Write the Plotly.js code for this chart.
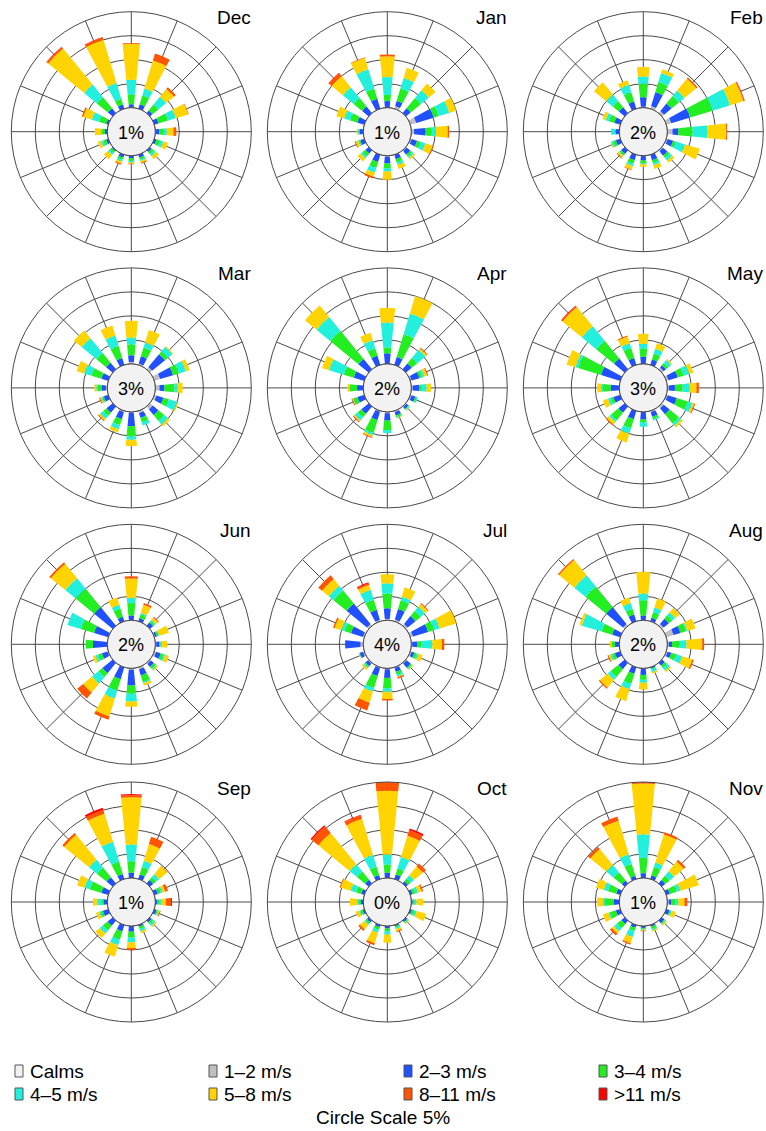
<!DOCTYPE html>
<html><head><meta charset="utf-8">
<script src="https://cdn.plot.ly/plotly-3.0.1.min.js"></script>
<style>html,body{margin:0;padding:0;background:#fff}#chart{width:766px;height:1131px}</style>
</head><body><div id="chart"></div>
<script>
// Directions (degrees, N clockwise): N NNE NE ENE E ESE SE SSE S SSW SW WSW W WNW NW NNW
const DIRECTIONS = [0,22.5,45,67.5,90,112.5,135,157.5,180,202.5,225,247.5,270,292.5,315,337.5];
const BINS = ['1–2 m/s','2–3 m/s','3–4 m/s','4–5 m/s','5–8 m/s','8–11 m/s','>11 m/s'];
const BIN_COLORS = ['#c0c0c0','#2050ff','#22ee22','#22f0dd','#ffd400','#ff5500','#ff0000'];
const CALM_LABEL = 'Calms';
const CALM_COLOR = '#f2f2f2';
const MONTHS = ['Dec','Jan','Feb','Mar','Apr','May','Jun','Jul','Aug','Sep','Oct','Nov'];
const CALMS = [1,1,2,3,2,3,2,4,2,1,0,1];
const SCALE_TEXT = 'Circle Scale 5%';

// Percent frequency per direction (rows N..NNW), columns = BINS
const DEC = [
 [0.1,0.6,2.1,3.0,7.5,0.15,0.05],[0,1.0,1.9,1.5,6.1,1.5,0],[0,0.7,1.6,2.1,2.1,0.5,0],[0,0.9,2.1,1.7,2.7,0.1,0],
 [0,0.8,1.0,0.6,1.4,0.6,0],[0,0.5,0.8,0.7,1.0,0,0],[0,0.5,0.6,0.5,0.8,0,0],[0,0.6,0.5,0.3,0.4,0.2,0],
 [0,0.5,0.6,0.3,0.3,0.1,0],[0,0.6,0.5,0.4,0.5,0.2,0],[0,0.3,0.5,0.5,1.1,0,0],[0,0.5,0.6,0.5,0.7,0,0],
 [0,0.5,0.6,0.2,1.3,0,0],[0,0.5,1.5,1.6,1.9,0.3,0],[0,1.3,3.0,3.4,9.7,0.4,0.1],[0,0.9,1.3,3.4,9.4,0.5,0.1]];
const JAN = [
 [0,1.4,1.3,3.7,4.3,0.4,0],[0.6,1.1,2.7,2.3,2.2,0,0],[0,1.3,2.8,2.1,1.8,0,0],[1.3,3.8,1.1,2.3,1.5,0,0],
 [0.6,2.4,1.3,0.8,2.5,0.3,0],[0.3,1.2,0.8,1.0,1.6,0.2,0],[0.2,1.0,0.5,0.4,0.4,0,0],[0.1,0.9,0.7,0.5,0.9,0,0],
 [0.2,1.4,1.0,0.7,1.7,0,0],[0,1.6,1.3,1.0,0.9,0.4,0],[0,0.9,0.8,0.5,0.8,0,0],[0,0.9,0.3,0.2,0.5,0.2,0],
 [0,0.8,0.2,0.2,0.2,0,0],[0,1.5,1.6,1.3,1.7,0,0],[0,1.8,2.3,2.9,3.0,0.8,0.1],[0,2.2,2.2,4.2,2.5,0.1,0]];
const FEB = [
 [0.2,2.0,2.8,1.5,2.0,0,0],[0.6,3.0,2.2,2.0,0.8,0,0],[0.6,2.0,2.0,1.5,3.2,0.3,0],[1.1,4.1,4.9,3.8,2.9,0.2,0.1],
 [1.1,1.2,3.0,3.1,3.9,0.2,0],[0.3,1.2,0.6,2.0,3.2,0,0],[0.3,1.2,0.6,0.7,0.6,0,0],[0,1.2,0.6,0.5,0.8,0,0],
 [0,1.0,0.6,0.2,0.5,0,0],[0,1.2,0.8,0.5,0.8,0.1,0],[0,1.0,0.4,0.2,0.4,0.2,0],[0,1.0,0.6,0.4,0.2,0,0],
 [0,0.8,0.1,0.8,0,0,0],[0,1.3,1.2,0.7,0.7,0,0],[0,1.6,1.6,1.8,3.3,0,0],[0,1.6,2.0,1.6,1.0,0,0]];
const MAR = [
 [0.4,1.4,2.3,1.4,3.5,0,0],[0.3,1.6,1.9,1.1,2.7,0,0],[0.6,3.5,0.8,1.2,0.2,0,0],[1.3,2.8,1.3,1.5,0.8,0,0],
 [0.9,1.0,2.1,0.7,1.0,0,0],[0.5,1.5,1.2,1.8,0.3,0,0],[0.8,1.5,1.6,1.0,0.5,0,0],[0.5,1.0,1.0,0.7,0,0,0],
 [0.2,2.8,2.1,0.7,1.3,0,0],[0.3,1.5,1.3,0.9,0.7,0,0],[0,1.7,0.9,0.8,0.4,0.2,0],[0,1.0,0.3,0.3,0.2,0.2,0],
 [0.3,0.9,0.8,0.3,0.4,0,0],[0,1.5,2.2,1.6,1.6,0,0],[0,1.8,2.6,4.0,2.1,0,0],[0,1.5,2.6,2.3,2.2,0,0]];
const APR = [
 [0,2.2,1.2,5.2,3.1,0,0],[0,1.7,5.0,4.5,3.8,0,0],[0,1.6,1.5,2.2,0.4,0.2,0],[0.3,1.7,0.6,0.5,0.6,0.2,0],
 [0.3,1.4,0.5,1.0,0.9,0,0],[0.3,0.8,0.3,0.3,0,0,0],[0.2,0.5,0.2,0.2,0.1,0,0],[0.3,0.7,0.4,0.2,0.1,0,0],
 [0.3,1.5,2.0,0.6,0,0,0],[0.2,1.8,2.8,0.5,0.4,0.2,0],[0,2.0,1.0,0.8,0.3,0.2,0],[0,1.5,0.9,0.1,0.1,0.2,0],
 [0,1.3,1.6,0,0.4,0,0],[0,2.3,2.2,3.2,1.5,0,0],[0,2.8,7.6,3.7,3.1,0,0],[0,2.0,1.6,1.8,1.6,0,0]];
const MAY = [
 [0,1.5,1.7,1.0,2.1,0,0],[0,1.2,1.3,1.0,1.2,0,0],[0.5,0.6,0.6,0.8,0.3,0,0],[0.5,2.0,1.3,1.2,0.9,0,0],
 [0.3,1.3,1.6,1.5,1.4,0.5,0],[0.3,2.0,2.4,1.0,0.4,0.2,0],[0.5,1.6,2.5,0.6,0.5,0,0],[0.3,1.0,0.5,0.3,0,0,0],
 [0,1.6,0.6,0.9,0,0,0],[0,1.8,2.0,1.2,1.9,0,0],[0,1.7,2.0,0.5,0.7,0.2,0],[0,1.5,0.6,0.6,1.1,0,0],
 [0,1.8,1.6,0.4,0.8,0,0],[0,4.2,5.0,0.6,1.9,0,0],[0,2.9,4.8,3.9,5.2,0.3,0.1],[0,1.5,2.2,1.0,1.5,0.2,0]];
const JUN = [
 [0,1.0,2.6,1.1,4.0,0.5,0],[0,0.7,0.8,0.3,1.8,0.4,0],[0,0.9,0.4,0.3,0.6,0.2,0],[0.2,0.4,0.3,0.2,2.1,0,0],
 [0.2,0.6,0.3,0.3,1.1,0,0],[0.4,1.0,0.6,0.4,0.8,0,0],[0.3,0.8,0.5,0.3,0.3,0,0],[0.5,1.3,1.4,0.3,0.5,0,0],
 [0.3,3.3,1.7,1.6,1.1,0,0],[0,2.6,2.5,1.7,3.9,0.7,0],[0,2.8,1.0,1.8,2.4,1.6,0],[0.2,1.2,0.8,0.6,0.6,0,0],
 [0,3.0,1.5,0,0,0,0],[0,3.1,2.9,2.9,0,0,0],[0,5.0,5.0,2.8,3.9,0.4,0],[0,1.0,1.8,0.8,1.6,0,0]];
const JUL = [
 [0.3,2.2,3.1,2.1,1.9,0,0],[0.4,2.3,1.9,0.8,2.0,0,0],[0.5,2.1,1.4,1.2,0.7,0.2,0],[0.6,3.3,1.3,1.2,3.6,0.1,0],
 [0.2,1.0,0.9,2.3,2.0,0.5,0],[0.3,0.6,0.5,0.4,0.9,0,0],[0.2,1.1,0.3,0.2,0.2,0,0],[0.2,0.8,0.6,0.4,0.2,0.3,0],
 [0.2,1.8,2.2,0.7,1.5,0.3,0],[0.2,1.7,2.6,0.8,2.4,1.7,0],[0.2,0.7,0.3,0.3,0.4,0,0],[0.3,0.7,0.1,0.1,0.1,0,0],
 [0.6,3.2,0,0,0,0,0],[0.3,2.6,1.4,0.7,1.5,0.3,0],[0.5,5.5,3.5,1.3,1.8,1.0,0],[0.3,2.2,2.2,2.2,1.0,0.4,0.2]];
const AUG = [
 [0,1.0,3.2,1.4,4.5,0,0],[0,0.8,1.2,1.0,2.0,0,0],[0.5,1.4,0.9,0.8,1.2,0,0],[1.6,1.5,1.2,0.3,1.8,0,0],
 [0.3,0.7,1.6,1.4,3.3,0.4,0],[0.3,0.8,1.1,1.3,2.2,0.3,0],[0,0.8,0.6,0.7,0.4,0,0],[0,0.3,0.2,0.6,0.3,0,0],
 [0,1.4,1.0,0.6,1.4,0,0],[0,1.4,2.2,1.2,2.6,0,0],[0,1.7,2.1,0.8,2.1,0.3,0],[0,1.2,0.6,0.4,0.4,0.2,0],
 [0,0.9,0.7,0,0.4,0,0],[0,1.8,2.3,4.3,0.5,0,0],[0.5,4.5,5.6,3.0,4.1,0.3,0],[0,1.5,1.2,1.3,1.2,0,0]];
const SEP = [
 [0,1.1,2.4,3.5,9.8,0.5,0.2],[0,1.0,1.6,1.4,3.6,1.6,0],[0,0.9,0.8,0.8,2.2,0.1,0],[0,0.8,0.6,0.4,0.6,0.6,0],
 [0,0.4,0.5,0.4,0.9,1.1,0.2],[0,0.5,0.3,0.2,0.2,0.2,0],[0,0.5,0.5,0.5,0.3,0,0],[0,0.4,0.5,0.5,0.4,0,0],
 [0,1.2,1.2,1.0,1.2,0.4,0],[0,1.4,1.8,1.2,2.5,0,0],[0,1.4,1.3,0.8,1.2,0,0],[0,1.2,0.5,0.3,0.7,0,0],
 [0,0.7,0.5,0.9,0.9,0,0],[0,1.5,2.6,1.1,1.6,0,0],[0,1.7,2.6,2.1,6.7,0.5,0],[0,1.1,2.7,4.3,6.1,0.9,0.4]];
const OCT = [
 [0,1.1,1.7,2.1,13.3,2.9,0.6],[0,1.0,1.3,2.5,4.6,1.2,0.4],[0,0.6,0.7,0.9,2.4,0.7,0.1],[0,0.5,0.6,0.6,0.8,0.3,0],
 [0,0.3,0.4,0.4,1.4,0,0],[0,0.4,0.5,0.5,2.1,0,0],[0,0.4,0.2,0.2,0.2,0,0],[0,0.3,0.3,0.3,0.5,0.2,0],
 [0,0.5,0.6,0.7,1.7,0,0],[0,0.5,0.5,0.7,2.3,0.4,0],[0,0.5,0.4,0.3,1.2,0.4,0],[0,0.4,0.4,0.3,0.8,0,0],
 [0,0.5,0.4,0.4,1.5,0,0],[0,0.7,1.1,1.2,2.2,0.2,0],[0,1.0,2.2,2.0,8.4,1.8,0.3],[0,0.9,1.8,2.6,7.8,0.8,0.1]];
const NOV = [
 [0,1.0,3.2,4.9,10.6,0.7,0.3],[0,0.8,1.8,1.0,6.1,0.5,0],[0,0.9,1.2,1.2,2.6,0.5,0],[0,0.8,1.5,0.8,4.0,0,0],
 [0.3,0.5,0.9,0.6,1.3,0.6,0],[0,0.7,0.2,0.3,0.9,0,0],[0,0.7,0.2,0.2,0.3,0,0],[0,0.4,0.5,0.3,0.3,0,0],
 [0,0.4,0.2,0.2,0.2,0.1,0],[0,0.6,0.7,1.3,1.4,0.3,0],[0,0.9,1.2,0.8,0.6,0.5,0],[0,1.0,1.3,0.3,1.2,0,0],
 [0,1.2,1.8,0.4,1.2,0,0],[0,0.9,1.8,0.9,1.7,0,0],[0,0.8,2.2,2.0,4.3,0.6,0],[0,0.7,2.6,2.1,7.3,0.9,0]];
const MONTH_DATA = [DEC,JAN,FEB,MAR,APR,MAY,JUN,JUL,AUG,SEP,OCT,NOV];

// ---------- layout geometry (pixels) ----------
const W = 766, H = 1131;
const COL_X = [131.3, 387.3, 643.3];
const ROW_Y = [131.7, 387.9, 644.3, 902.0];
const R_OUT = 120, R_CALM = 24;
const FONT = 'Liberation Sans, Arial, Helvetica, sans-serif';
const px = x => x / W, py = y => 1 - y / H;

const traces = [], shapes = [], annotations = [];
const layout = {
  width: W, height: H, margin: {l:0, r:0, t:0, b:0},
  paper_bgcolor: '#fff', showlegend: false, font: {family: FONT, color: '#000'},
  shapes, annotations
};

MONTHS.forEach((m, i) => {
  const cx = COL_X[i % 3], cy = ROW_Y[Math.floor(i / 3)];
  const key = i === 0 ? 'polar' : 'polar' + (i + 1);
  layout[key] = {
    domain: {x: [px(cx - R_OUT), px(cx + R_OUT)], y: [py(cy + R_OUT), py(cy - R_OUT)]},
    bgcolor: 'rgba(0,0,0,0)', hole: R_CALM / R_OUT, barmode: 'stack',
    radialaxis: {range: [0, 20], tickmode: 'array', tickvals: [5, 10, 15], showticklabels: false,
      ticks: '', showline: false, gridcolor: '#4a4a4a', gridwidth: 1},
    angularaxis: {rotation: 90, direction: 'clockwise', tickmode: 'array', tickvals: DIRECTIONS,
      showticklabels: false, ticks: '', showline: true, linecolor: '#4a4a4a', linewidth: 1,
      gridcolor: '#4a4a4a', gridwidth: 1}
  };
  const data = MONTH_DATA[i];
  BINS.forEach((b, k) => {
    traces.push({type: 'barpolar', subplot: key, name: b, theta: DIRECTIONS,
      r: data.map(row => row[k]), width: 11.25,
      marker: {color: BIN_COLORS[k], line: {width: 0}}, hoverinfo: 'skip'});
  });
  // lets bars longer than the outer ring extend past it (no clipping)
  traces.push({type: 'scatterpolar', subplot: key, r: [0], theta: [0], mode: 'markers',
    cliponaxis: false, marker: {size: 1, opacity: 0}, hoverinfo: 'skip'});
  shapes.push({type: 'circle', xref: 'paper', yref: 'paper',
    x0: px(cx - R_CALM), x1: px(cx + R_CALM), y0: py(cy + R_CALM), y1: py(cy - R_CALM),
    fillcolor: CALM_COLOR, line: {color: '#4a4a4a', width: 1}});
  annotations.push({xref: 'paper', yref: 'paper', x: px(cx), y: py(cy + 1), text: CALMS[i] + '%',
    showarrow: false, xanchor: 'center', yanchor: 'middle', font: {size: 18, color: '#000'}});
  annotations.push({xref: 'paper', yref: 'paper', x: px(cx + 122), y: py(cy - 114), text: m,
    showarrow: false, xanchor: 'right', yanchor: 'middle', font: {size: 19, color: '#000'}});
});

// ---------- legend ----------
const LEG_X = [15, 209, 404, 599];
const LEG_Y = [1071, 1094];
const legItems = [{label: CALM_LABEL, color: CALM_COLOR}].concat(BINS.map((b, k) => ({label: b, color: BIN_COLORS[k]})));
legItems.forEach((it, j) => {
  const x = LEG_X[j % 4], y = LEG_Y[Math.floor(j / 4)];
  shapes.push({type: 'rect', xref: 'paper', yref: 'paper', x0: px(x), x1: px(x + 8),
    y0: py(y + 6), y1: py(y - 6), fillcolor: it.color, line: {color: '#555', width: 1}});
  annotations.push({xref: 'paper', yref: 'paper', x: px(x + 13), y: py(y), text: it.label,
    showarrow: false, xanchor: 'left', yanchor: 'middle', font: {size: 19, color: '#000'}});
});
annotations.push({xref: 'paper', yref: 'paper', x: px(383), y: py(1117), text: SCALE_TEXT,
  showarrow: false, xanchor: 'center', yanchor: 'middle', font: {size: 19, color: '#000'}});

Plotly.newPlot('chart', traces, layout, {staticPlot: true, displayModeBar: false});
</script></body></html>
